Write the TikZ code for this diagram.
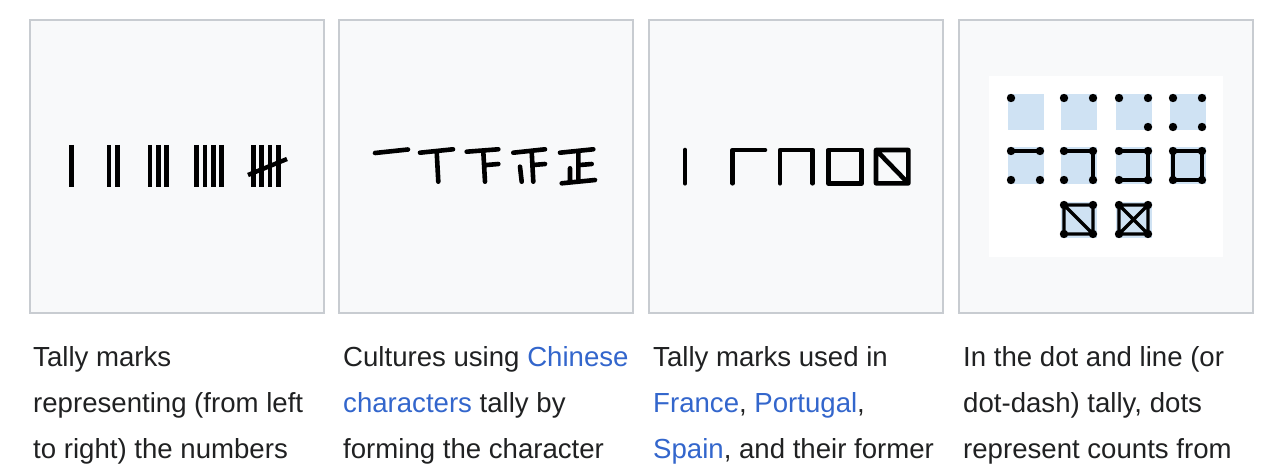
\documentclass[tikz,border=0pt]{standalone}
\usepackage{fontspec}
\setmainfont{Liberation Sans}
\definecolor{panelbg}{HTML}{F8F9FA}
\definecolor{panelrule}{HTML}{C8CCD1}
\definecolor{tallyblue}{HTML}{CFE2F3}
\definecolor{linkblue}{HTML}{3366CC}
\definecolor{bodytext}{HTML}{202122}
\newcommand{\lnk}[1]{\textcolor{linkblue}{#1}}

\begin{document}
\begin{tikzpicture}[x=1pt,y=-1pt,
	panel/.style={draw=panelrule,fill=panelbg,line width=1.3pt},
	bar/.style={line width=4.6pt},
	stroke/.style={line width=4.6pt,line cap=round,line join=round},
	dotline/.style={line width=3.3pt},
	caption/.style={anchor=base west,inner sep=0pt,text=bodytext,font=\fontsize{27.6}{46}\selectfont}]

	\useasboundingbox (0,0) rectangle (1280,468);

	% the four panels
	\draw[panel] (30,20) rectangle (324,313);
	\draw[panel] (339,20) rectangle (633,313);
	\draw[panel] (649,20) rectangle (943,313);
	\draw[panel] (959,20) rectangle (1253,313);

	% strokes from one to five
	\foreach \x in {71.7, 109,117.3, 150,158.3,166.7, 196.7,205,213.3,221.7, 253.3,261.7,270,278.3}
		\draw[bar] (\x,145) -- (\x,187);
	\draw[line width=4.4pt] (248,175) -- (287,159);

	% the character zheng, stroke by stroke
	\draw[stroke] (375,153) -- (408,149.5);
	\draw[stroke] (420,152.7) -- (453,149.3) (436.7,151.7) -- (438.3,181.7);
	\draw[stroke] (466.7,151.7) -- (498.3,149.3) (483.3,151.7) -- (485,181.7)
		(486.7,165) -- (498.3,164);
	\draw[stroke] (513.3,152.7) -- (545,149.3) (531.7,151.7) -- (533.3,181.7)
		(533.3,165) -- (545,164) (520,166.7) -- (521.7,181.7);
	\draw[stroke] (560,152.7) -- (593.3,149.3) (578.3,151.7) -- (578.3,181.7)
		(580,165) -- (591.7,164) (570,168.3) -- (570,181.7)
		(561.7,183.3) -- (595,180);

	% square tally
	\draw[stroke] (685,150) -- (685,183.3);
	\draw[stroke] (732.7,183.3) -- (732.7,150) -- (765,150);
	\draw[stroke] (780,183.3) -- (780,150) -- (812.7,150) -- (812.7,183.3);
	\draw[stroke] (828.3,150) rectangle (861.7,183.3);
	\draw[stroke] (876,150) rectangle (908.3,183.3) (876,150) -- (908.3,183.3);

	% dot and line tally
	\fill[white] (989,76) rectangle (1223,257);
	\foreach \k/\x/\y in {1/1011/98, 2/1064/98, 3/1119/98, 4/1173/98,
		5/1011/151, 6/1064/151, 7/1119/151, 8/1173/151,
		9/1064/205, 10/1119/205} {
		\fill[tallyblue] (\x-3.5,\y-3.5) rectangle (\x+32.5,\y+32.5);
		\coordinate (s\k nw) at (\x,\y);
		\coordinate (s\k ne) at (\x+29,\y);
		\coordinate (s\k sw) at (\x,\y+29);
		\coordinate (s\k se) at (\x+29,\y+29);
	}
	\draw[dotline] (s5nw) -- (s5ne);
	\draw[dotline] (s6nw) -- (s6ne) -- (s6se);
	\draw[dotline] (s7nw) -- (s7ne) -- (s7se) -- (s7sw);
	\draw[dotline] (s8nw) -- (s8ne) -- (s8se) -- (s8sw) -- cycle;
	\draw[dotline] (s9nw) -- (s9ne) -- (s9se) -- (s9sw) -- cycle (s9nw) -- (s9se);
	\draw[dotline] (s10nw) -- (s10ne) -- (s10se) -- (s10sw) -- cycle
		(s10nw) -- (s10se) (s10ne) -- (s10sw);
	\foreach \p in {s1nw, s2nw,s2ne, s3nw,s3ne,s3se, s4nw,s4ne,s4sw,s4se,
		s5nw,s5ne,s5sw,s5se, s6nw,s6ne,s6sw,s6se, s7nw,s7ne,s7sw,s7se,
		s8nw,s8ne,s8sw,s8se, s9nw,s9ne,s9sw,s9se, s10nw,s10ne,s10sw,s10se}
		\fill (\p) circle [radius=4.2pt];

	% captions
	\node[caption] (capA1) at (33,366) {Tally marks};
	\node[caption] (capA2) at (33,412) {representing (from left};
	\node[caption] (capA3) at (33,458) {to right) the numbers};
	\node[caption] (capB1) at (343,366) {Cultures using \lnk{Chinese}};
	\node[caption] (capB2) at (343,412) {\lnk{characters} tally by};
	\node[caption] (capB3) at (343,458) {forming the character};
	\node[caption] (capC1) at (653,366) {Tally marks used in};
	\node[caption] (capC2) at (653,412) {\lnk{France}, \lnk{Portugal},};
	\node[caption] (capC3) at (653,458) {\lnk{Spain}, and their former};
	\node[caption] (capD1) at (963,366) {In the dot and line (or};
	\node[caption] (capD2) at (963,412) {dot-dash) tally, dots};
	\node[caption] (capD3) at (963,458) {represent counts from};
\end{tikzpicture}
\end{document}
